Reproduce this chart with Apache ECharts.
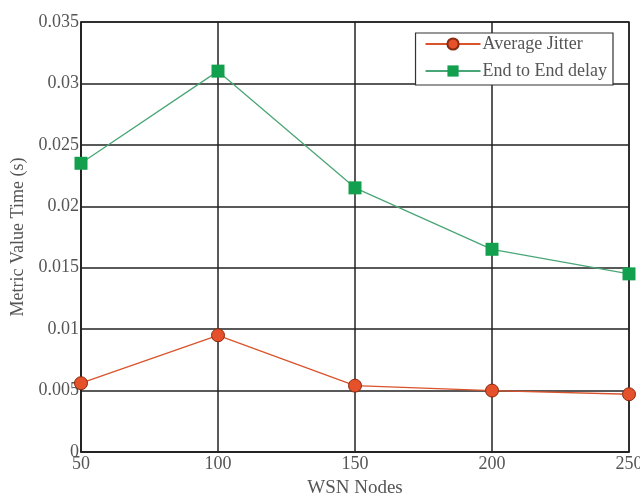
<!DOCTYPE html>
<html><head><meta charset="utf-8">
<script src="https://cdn.jsdelivr.net/npm/echarts@6/dist/echarts.min.js"></script>
<style>html,body{margin:0;padding:0;background:#fff}#c{width:640px;height:496px}</style>
</head><body><div id="c"></div>
<script>
const nodes = [50, 100, 150, 200, 250];
const jitter = [0.0056, 0.0095, 0.0054, 0.0050, 0.0047];
const delay = [0.0235, 0.0310, 0.0215, 0.0165, 0.0145];
const seriesNames = ['Average Jitter', 'End to End delay'];
const xTitle = 'WSN Nodes';
const yTitle = 'Metric Value Time (s)';

const font = 'Liberation Serif, Times New Roman, serif';
const chart = echarts.init(document.getElementById('c'));
chart.setOption({
  animation: false,
  backgroundColor: '#fff',
  grid: { left: 81, right: 11, top: 22, bottom: 44, outerBoundsMode: 'none', containLabel: false,
    show: true, borderColor: '#222', borderWidth: 1.5 },
  legend: {
    right: 27, top: 33, orient: 'vertical', itemGap: 9,
    backgroundColor: '#fff', borderColor: '#333', borderWidth: 1.2, borderRadius: 0,
    padding: [2, 6, 5, 9], itemWidth: 55, itemHeight: 14,
    textStyle: { fontFamily: font, fontSize: 18, color: '#555', padding: [0, 0, 0, -3] },
    data: seriesNames
  },
  xAxis: {
    type: 'value', min: 50, max: 250, interval: 50,
    name: xTitle, nameLocation: 'middle', nameGap: 27,
    nameTextStyle: { fontFamily: font, fontSize: 19, color: '#555' },
    axisLine: { lineStyle: { color: '#222', width: 1.5 } },
    axisTick: { show: false },
    axisLabel: { fontFamily: font, fontSize: 18, color: '#555', margin: 3 },
    splitLine: { lineStyle: { color: '#222', width: 1.5 } }
  },
  yAxis: {
    type: 'value', min: 0, max: 0.035, interval: 0.005,
    name: yTitle, nameLocation: 'middle', nameGap: 52,
    nameTextStyle: { fontFamily: font, fontSize: 18, color: '#555' },
    axisLine: { lineStyle: { color: '#222', width: 1.5 } },
    axisTick: { show: false },
    axisLabel: { fontFamily: font, fontSize: 18, color: '#555', margin: 2,
      padding: [0, 0, 3, 0],
      formatter: v => String(+v.toFixed(3)) },
    splitLine: { lineStyle: { color: '#222', width: 1.5 } }
  },
  series: [
    { name: seriesNames[0], type: 'line', data: nodes.map((x, i) => [x, jitter[i]]),
      symbol: 'circle', symbolSize: 13,
      lineStyle: { color: '#d9532b', width: 1.3 },
      itemStyle: { color: '#e4512a', borderColor: '#8a2a10', borderWidth: 1 } },
    { name: seriesNames[1], type: 'line', data: nodes.map((x, i) => [x, delay[i]]),
      symbol: 'rect', symbolSize: 13,
      lineStyle: { color: '#4aa676', width: 1.3 },
      itemStyle: { color: '#12a04e' } }
  ]
});
</script></body></html>
